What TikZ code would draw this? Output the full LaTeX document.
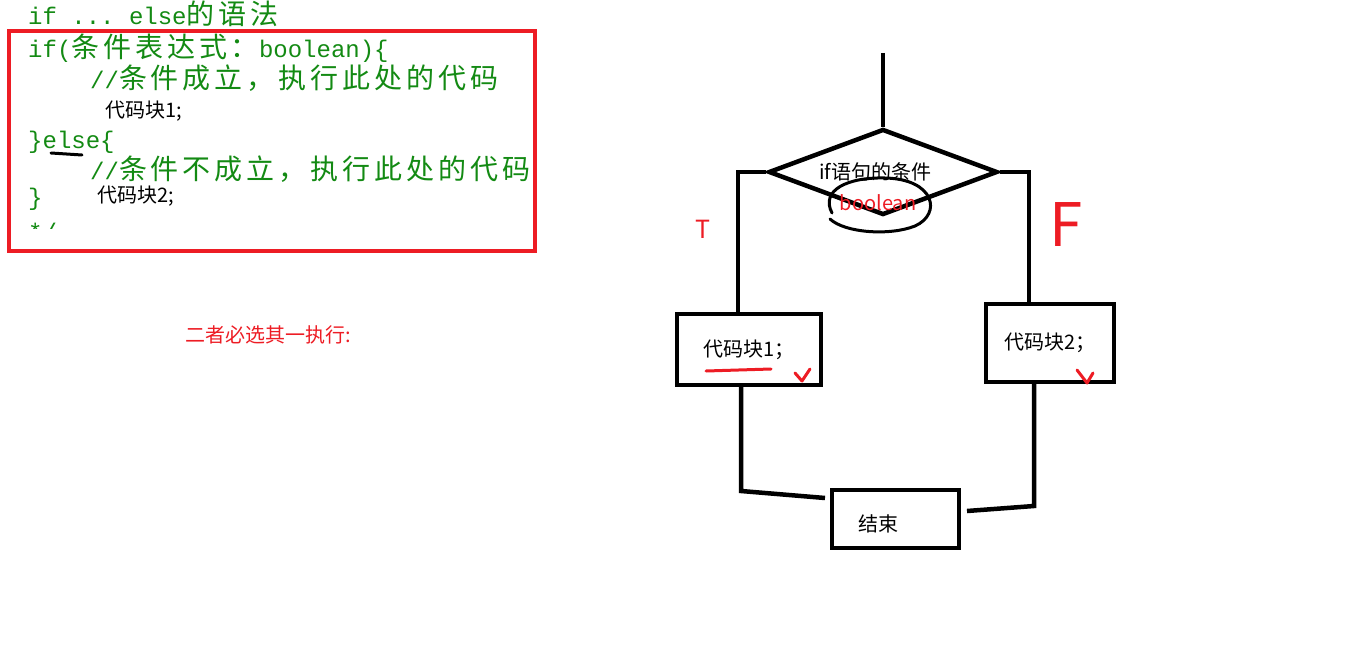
\documentclass[tikz,border=0pt]{standalone}
\usepackage{fontspec}
\setmainfont{Noto Sans CJK SC}
\setmonofont{Liberation Mono}
\newfontfamily\cjkcode{Noto Sans CJK SC}[LetterSpace=14]
\usetikzlibrary{shapes.geometric,positioning}
\definecolor{code-green}{HTML}{138A13}
\definecolor{mark-red}{HTML}{ED1C24}

\newcommand{\cc}[1]{{\fontsize{28}{28}\cjkcode #1}}

\tikzset{
  codeline/.style={anchor=base west,inner sep=0pt,font=\fontsize{24}{24}\ttfamily,text=code-green},
  blacktext/.style={anchor=base west,inner sep=0pt,font=\fontsize{20}{20}\selectfont},
  flowtext/.style={inner sep=0pt,font=\fontsize{20}{20}\selectfont},
  flowbox/.style={draw,line width=4pt,inner sep=0pt,font=\fontsize{20}{20}\selectfont},
  wire/.style={line width=4.5pt},
  pen/.style={draw=mark-red,line width=3pt,line cap=round,line join=round}
}

\begin{document}
\begin{tikzpicture}[x=1pt,y=-1pt]
  \useasboundingbox (0,0) rectangle (1356,669);

  % code sample
  \node[codeline] (head) at (28,25) {if ... else\cc{的语法}};
  \draw[mark-red,line width=4pt] (9,31) rectangle (535,251);
  \node[codeline] (l1) at (28,57) {if(\cc{条件表达式：}boolean)\{};
  \node[codeline] (l2) at (90,88) {//\cc{条件成立，执行此处的代码}};
  \node[blacktext] (b1) at (105,117) {代码块1;};
  \node[codeline] (l3) at (28,148) {\}else\{};
  \draw[line width=3pt,line cap=round] (51,153) -- (82,155);
  \node[codeline] (l4) at (90,179) {//\cc{条件不成立，执行此处的代码}};
  \node[blacktext] (b2) at (97,202) {代码块2;};
  \node[codeline] (l5) at (28,205) {\}};
  \begin{scope}
    \clip (0,200) rectangle (300,228);
    \node[codeline] (l6) at (28,240) {*/};
  \end{scope}

  \node[flowtext,text=mark-red] (note) at (268,335) {二者必选其一执行:};

  % flow chart
  \coordinate (start) at (883,53);
  \node[diamond,draw,line width=4.5pt,minimum width=229,minimum height=86,
        inner sep=0pt,font=\fontsize{20}{20}\selectfont] (cond) at (883,172) {};
  \node[flowtext] (condt) at (875,172) {if语句的条件};
  \node[flowtext,text=mark-red] (bool) at (878,203) {boolean};
  \draw[line width=3pt,line cap=round]
    (832,213) .. controls (820,190) and (848,177) .. (885,178)
    .. controls (935,179) and (942,214) .. (915,226)
    .. controls (890,236) and (845,233) .. (830,219);

  \node[flowbox,minimum width=144,minimum height=71] (box1) at (749,349.5) {代码块1；};
  \node[flowbox,minimum width=128,minimum height=78] (box2) at (1050,343) {代码块2；};
  \node[flowbox,minimum width=127,minimum height=58] (endb) at (895.5,519) {};
  \node[flowtext] (endt) at (878,524) {结束};

  \draw[wire] (start) -- (cond.north);
  \coordinate (lt) at (738,172);
  \coordinate (rt) at (1029,172);
  \draw[wire] (cond.west) -- (lt) -- (lt |- box1.north);
  \draw[wire] (cond.east) -- (rt) -- (rt |- box2.north);

  \coordinate (lb) at (741,491);
  \coordinate (le) at (825,498);
  \coordinate (rb) at (1034,506);
  \coordinate (re) at (967,511);
  \draw[wire] (lb |- box1.south) -- (lb) -- (le);
  \draw[wire] (rb |- box2.south) -- (rb) -- (re);

  % red marks
  \node[inner sep=0pt,text=mark-red,font=\fontsize{25}{25}\selectfont] (tmark) at (703,229) {T};
  \node[inner sep=0pt,text=mark-red,font=\fontsize{60}{60}\selectfont] (fmark) at (1066,225) {F};
  \draw[pen] (706,371) -- (771,369);
  \draw[pen] (795,373) -- (802,381) -- (810,369);
  \draw[pen] (1077,370) -- (1087,383) -- (1093,373);
\end{tikzpicture}
\end{document}
